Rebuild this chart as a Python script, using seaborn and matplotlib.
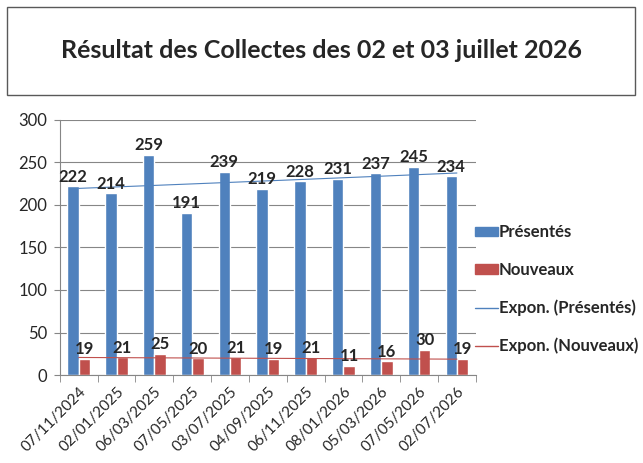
import numpy as np
import pandas as pd
import seaborn as sns
import matplotlib.pyplot as plt
from matplotlib.patches import Patch, Rectangle
from matplotlib.lines import Line2D

dates = ['07/11/2024', '02/01/2025', '06/03/2025', '07/05/2025', '03/07/2025', '04/09/2025',
         '06/11/2025', '08/01/2026', '05/03/2026', '07/05/2026', '02/07/2026']
presentes = [222, 214, 259, 191, 239, 219, 228, 231, 237, 245, 234]
nouveaux = [19, 21, 25, 20, 21, 19, 21, 11, 16, 30, 19]
series = ['Présentés', 'Nouveaux']
colors = ['#4F81BD', '#C0504D']

sns.set_style('white')
plt.rcParams['font.family'] = ['Lato', 'DejaVu Sans']

df = pd.DataFrame({
    'date': dates * 2,
    'value': presentes + nouveaux,
    'serie': [series[0]] * len(dates) + [series[1]] * len(dates),
})

fig = plt.figure(figsize=(6.43, 4.63), dpi=100)
ax = fig.add_axes([0.093, 0.19, 0.647, 0.551])

sns.barplot(data=df, x='date', y='value', hue='serie', palette=colors,
            width=0.6, gap=0, ax=ax, legend=False, saturation=1)

for cont in ax.containers:
    ax.bar_label(cont, fontsize=12, fontweight='bold', padding=1)

# tendance exponentielle (comme "Expon." d'Excel)
xs = np.arange(1, len(dates) + 1)
for vals, col in zip([presentes, nouveaux], colors):
    b, a = np.polyfit(xs, np.log(vals), 1)
    ax.plot(xs - 1, np.exp(a + b * xs), color=col, lw=0.8)

ax.set_ylim(0, 300)
ax.set_xlim(-0.5, len(dates) - 0.5)
ax.set_yticks(range(0, 301, 50))
ax.yaxis.grid(True, color='#868686', lw=0.8)
ax.set_axisbelow(True)
for s in ['top', 'right']:
    ax.spines[s].set_visible(False)
ax.spines['left'].set_color('#868686')
ax.spines['bottom'].set_color('#868686')
ax.set_xlabel('')
ax.set_ylabel('')
ax.tick_params(axis='y', labelsize=12, length=4, color='#868686', left=True, pad=5)
ax.set_xticks(np.arange(len(dates)))
ax.set_xticklabels(dates, rotation=45, ha='right', rotation_mode='anchor', fontsize=11)
ax.tick_params(axis='x', length=0, pad=7)
ax.set_xticks(np.arange(-0.5, len(dates)), minor=True)
ax.tick_params(axis='x', which='minor', length=5, color='#868686', bottom=True)

handles = [Patch(color=colors[0]), Patch(color=colors[1]),
           Line2D([], [], color=colors[0], lw=1), Line2D([], [], color=colors[1], lw=1)]
labels = ['Présentés', 'Nouveaux', 'Expon. (Présentés)', 'Expon. (Nouveaux)']
fig.legend(handles, labels, loc='center left', bbox_to_anchor=(0.738, 0.375), frameon=False,
           prop={'size': 12, 'weight': 'bold'}, labelspacing=1.3, handlelength=1.4,
           handleheight=0.5, handletextpad=0.05, borderpad=0, borderaxespad=0)

fig.patches.append(Rectangle((0.011, 0.795), 0.977, 0.19, transform=fig.transFigure,
                             fill=False, edgecolor='#595959', lw=1))
fig.text(0.5, 0.89, 'Résultat des Collectes des 02 et 03 juillet 2026', ha='center', va='center',
         fontsize=18, fontweight='bold')

fig.savefig('out.png', dpi=100)
